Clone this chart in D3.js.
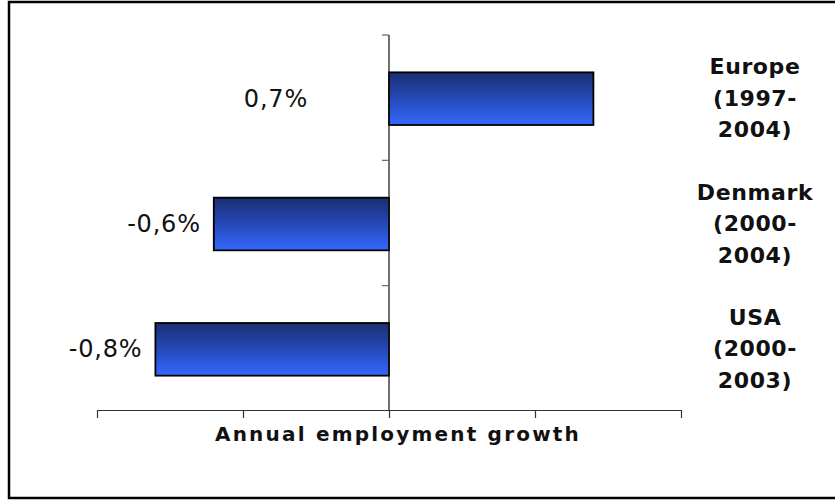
<!DOCTYPE html>
<html>
<head>
<meta charset="utf-8">
<script src="https://cdn.jsdelivr.net/npm/d3@7"></script>
<style>
  html, body { margin: 0; padding: 0; background: #fff; }
  svg { display: block; }
</style>
</head>
<body>
<svg id="chart" width="835" height="500"></svg>
<script>
// Annual employment growth by region and period
const categories = ["Europe (1997-2004)", "Denmark (2000-2004)", "USA (2000-2003)"];
const labelLines = [["Europe", "(1997-", "2004)"], ["Denmark", "(2000-", "2004)"], ["USA", "(2000-", "2003)"]];
const growth = [0.7, -0.6, -0.8];
const xTicks = [-1, -0.5, 0, 0.5, 1];
const axisTitle = "Annual employment growth";

const svg = d3.select("#chart");
const font = "'DejaVu Sans', Verdana, sans-serif";

// outer frame (open on the right edge)
svg.append("path")
  .attr("d", "M835,2 H9 V498 H835")
  .attr("fill", "none")
  .attr("stroke", "#000")
  .attr("stroke-width", 2.5);

const x = d3.scaleLinear().domain([-1, 1]).range([97, 681]);
const y = d3.scaleBand().domain(categories).range([35, 411])
  .paddingInner(0.58).paddingOuter(0.29);
const yCenter = c => y(c) + y.bandwidth() / 2;

// bar fill: dark navy at top fading to bright blue
const grad = svg.append("defs").append("linearGradient")
  .attr("id", "barFill").attr("x1", 0).attr("y1", 0).attr("x2", 0).attr("y2", 1);
grad.append("stop").attr("offset", "0%").attr("stop-color", "#1a2f72");
grad.append("stop").attr("offset", "45%").attr("stop-color", "#2446b0");
grad.append("stop").attr("offset", "100%").attr("stop-color", "#3468ff");

const rows = categories.map((c, i) => ({ c, v: growth[i], lines: labelLines[i] }));

// bars
svg.append("g").selectAll("rect").data(rows).join("rect")
  .attr("x", d => x(Math.min(0, d.v)))
  .attr("y", d => y(d.c) + 1)
  .attr("width", d => Math.abs(x(d.v) - x(0)))
  .attr("height", y.bandwidth())
  .attr("fill", "url(#barFill)")
  .attr("stroke", "#000")
  .attr("stroke-width", 1.8);

// x axis with unlabelled ticks
const xAxis = svg.append("g")
  .attr("transform", "translate(0,410)")
  .call(d3.axisBottom(x).tickValues(xTicks).tickFormat("").tickSize(8).tickSizeOuter(0));
xAxis.select(".domain").attr("stroke", "#333").attr("stroke-width", 1.2);
xAxis.selectAll(".tick line").attr("stroke", "#333").attr("stroke-width", 1.2);

// vertical axis at zero with ticks at the category boundaries
const zero = x(0);
const bounds = categories.map(c => y(c) - y.step() * y.paddingInner() / 2);
svg.append("line")
  .attr("x1", zero).attr("x2", zero)
  .attr("y1", bounds[0]).attr("y2", 410)
  .attr("stroke", "#111").attr("stroke-width", 1.2);
svg.append("g").selectAll("line").data(bounds).join("line")
  .attr("x1", zero - 7).attr("x2", zero)
  .attr("y1", d => d).attr("y2", d => d)
  .attr("stroke", "#666").attr("stroke-width", 1.2);

// value labels
const fmt = v => d3.format(".1f")(v).replace(".", ",").replace("−", "-") + "%";
svg.append("g").selectAll("text").data(rows).join("text")
  .attr("x", d => d.v < 0 ? x(d.v) - 13 : zero - 81)
  .attr("y", d => yCenter(d.c) + 9)
  .attr("text-anchor", "end")
  .attr("font-family", font)
  .attr("font-size", 24)
  .attr("letter-spacing", 0.8)
  .attr("fill", "#111")
  .text(d => fmt(d.v));

// category labels on the right
const catG = svg.append("g").selectAll("text").data(rows).join("text")
  .attr("text-anchor", "middle")
  .attr("font-family", font)
  .attr("font-weight", "bold")
  .attr("font-size", 22)
  .attr("letter-spacing", 0.6)
  .attr("fill", "#111");
catG.selectAll("tspan").data(d => d.lines.map((t, i) => ({ t, i, c: d.c }))).join("tspan")
  .attr("x", 755)
  .attr("y", d => yCenter(d.c) + 8 + (d.i - 1) * 31.5)
  .text(d => d.t);

// axis title
svg.append("text")
  .attr("x", 398)
  .attr("y", 441)
  .attr("text-anchor", "middle")
  .attr("font-family", font)
  .attr("font-weight", "bold")
  .attr("font-size", 20)
  .attr("letter-spacing", 2.2)
  .attr("fill", "#111")
  .text(axisTitle);
</script>
</body>
</html>
